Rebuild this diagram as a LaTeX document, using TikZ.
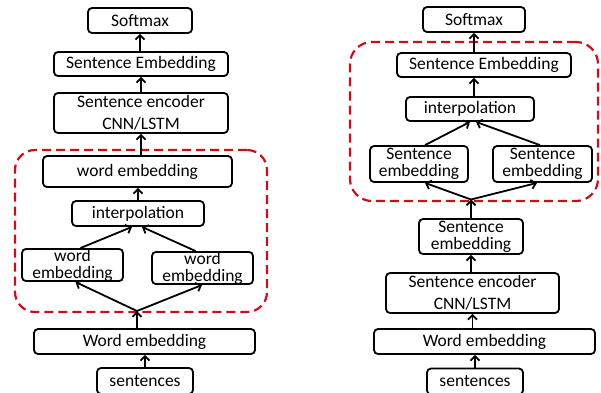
\documentclass[tikz,border=0pt]{standalone}
\usepackage{fontspec}
\setmainfont{Carlito}
\usetikzlibrary{arrows.meta,calc}
\definecolor{dred}{RGB}{200,16,28}
\begin{document}
\begin{tikzpicture}[x=1pt,y=-1pt,
  bx/.style={draw,line width=1.8pt,rounded corners=4pt,inner sep=0pt,align=center,font=\fontsize{17.5}{17}\selectfont},
  bx2/.style={bx,font=\fontsize{17.5}{22}\selectfont},
  arr/.style={line width=1.8pt,-{Straight Barb[length=4.5pt,width=9pt]}},
  grp/.style={draw=dred,line width=2.2pt,dash pattern=on 9pt off 5pt,rounded corners=20pt,inner sep=0pt}]
\useasboundingbox (0,0) rectangle (601,392);
% ---------- left ----------
\node[grp,minimum width=252pt,minimum height=162pt] (g1) at (141,231) {};
\node[bx,minimum width=104pt,minimum height=25pt] (sm1) at (140,20.5) {Softmax};
\node[bx,minimum width=174pt,minimum height=24pt] (se1) at (141,64) {Sentence Embedding};
\node[bx2,minimum width=174pt,minimum height=40pt] (enc1) at (141,113) {Sentence encoder\\CNN/LSTM};
\node[bx,minimum width=189pt,minimum height=31pt] (wt1) at (137.5,171.5) {word embedding};
\node[bx,minimum width=132pt,minimum height=25pt] (ip1) at (138,213.5) {interpolation};
\node[bx,minimum width=101pt,minimum height=31pt] (wl1) at (72.5,265) {word\\embedding};
\node[bx,minimum width=101pt,minimum height=31pt] (wr1) at (202.5,268) {word\\embedding};
\node[bx,minimum width=221pt,minimum height=25pt] (W1) at (144.5,341.5) {Word embedding};
\node[bx,minimum width=96pt,minimum height=26pt] (s1) at (145,381) {sentences};
\coordinate (j1) at (137,311);
\draw[arr] (sm1.south |- se1.north) -- (sm1.south);
\draw[arr] (se1.south |- enc1.north) -- (se1.south);
\draw[arr] (enc1.south |- wt1.north) -- (enc1.south);
\draw[arr] (ip1.north) -- (ip1.north |- wt1.south);
\draw[arr] ($(wl1.north)+(8,0)$) -- ($(ip1.south)+(-6,0)$);
\draw[arr] ($(wr1.north)+(-7,0)$) -- ($(ip1.south)+(4,0)$);
\draw[arr] (j1 |- W1.north) -- (j1);
\draw[arr] (j1) -- ($(wl1.south)+(3,0)$);
\draw[arr] (j1) -- ($(wr1.south)+(-0.5,0)$);
\draw[arr] (s1.north) -- (s1.north |- W1.south);
% ---------- right ----------
\node[grp,minimum width=248pt,minimum height=159pt,rounded corners=22pt] (g2) at (474,121.5) {};
\node[bx,minimum width=102pt,minimum height=25pt] (sm2) at (474,19.5) {Softmax};
\node[bx,minimum width=174pt,minimum height=24pt] (se2) at (484,65) {Sentence Embedding};
\node[bx,minimum width=128pt,minimum height=24pt] (ip2) at (470,109) {interpolation};
\node[bx,minimum width=98pt,minimum height=36pt] (sl2) at (419,164) {Sentence\\embedding};
\node[bx,minimum width=99pt,minimum height=36pt] (sr2) at (542.5,164) {Sentence\\embedding};
\node[bx,minimum width=104pt,minimum height=35pt] (sb2) at (471,236.5) {Sentence\\embedding};
\node[bx2,minimum width=173pt,minimum height=40pt] (enc2) at (472.5,293) {Sentence encoder\\CNN/LSTM};
\node[bx,minimum width=221pt,minimum height=25pt] (W2) at (484.5,341.5) {Word embedding};
\node[bx,minimum width=96pt,minimum height=26pt] (s2) at (475,381.5) {sentences};
\coordinate (j2) at (471,199.5);
\draw[arr] (sm2.south |- se2.north) -- (sm2.south);
\draw[arr] ($(ip2.north)+(4,0)$) -- ($(se2.south)+(-10,0)$);
\draw[arr] ($(sl2.north)+(6,0)$) -- (ip2.south);
\draw[arr] ($(sr2.north)+(-2.5,0)$) -- ($(ip2.south)+(6,0)$);
\draw[arr] (sb2.north) -- (j2);
\draw[arr] (j2) -- ($(sl2.south)+(6,0)$);
\draw[arr] (j2) -- ($(sr2.south)+(-5.5,0)$);
\draw[arr] (sb2.south |- enc2.north) -- (sb2.south);
\draw[arr] (enc2.south |- W2.north) -- (enc2.south);
\draw[arr] (s2.north) -- (s2.north |- W2.south);
\end{tikzpicture}
\end{document}
